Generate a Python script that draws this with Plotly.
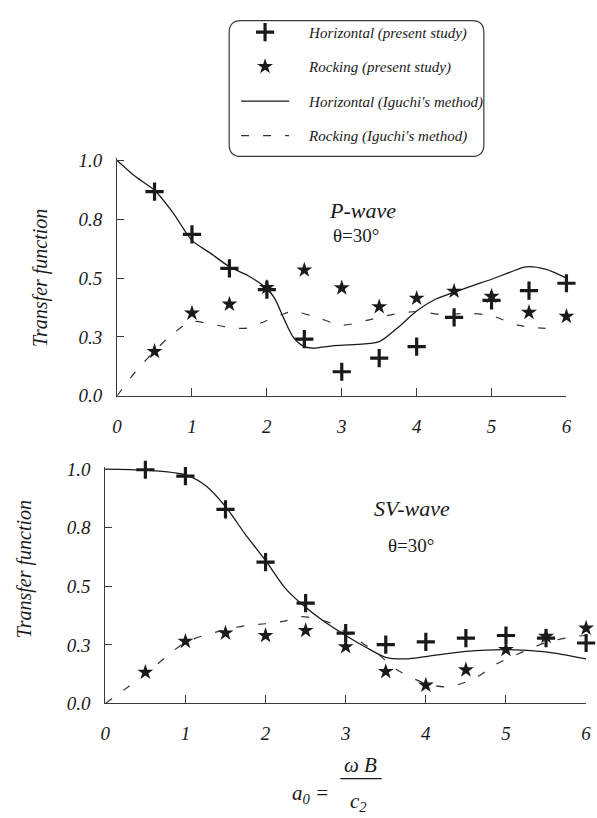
import plotly.graph_objects as go

# ---------------- data ----------------
a0_points = [0.5, 1.0, 1.5, 2.0, 2.5, 3.0, 3.5, 4.0, 4.5, 5.0, 5.5, 6.0]

# P-wave (top panel)
p_horiz_study = [0.867, 0.686, 0.541, 0.451, 0.241, 0.102, 0.16, 0.209, 0.333, 0.405, 0.447, 0.478]
p_rock_study = [0.188, 0.351, 0.389, 0.46, 0.534, 0.458, 0.378, 0.414, 0.444, 0.422, 0.354, 0.337]

p_horiz_iguchi_x = [0, 0.25, 0.5, 0.75, 1.0, 1.25, 1.5, 1.75, 2.0, 2.1, 2.22, 2.35, 2.48, 2.61, 2.87, 3.2,
                    3.5, 3.75, 4.0, 4.25, 4.5, 4.75, 5.0, 5.25, 5.46, 5.72, 6.0]
p_horiz_iguchi_y = [1.0, 0.93, 0.873, 0.776, 0.66, 0.605, 0.548, 0.51, 0.455, 0.416, 0.333, 0.25, 0.212, 0.202,
                    0.212, 0.218, 0.23, 0.29, 0.36, 0.41, 0.44, 0.468, 0.495, 0.525, 0.548, 0.538, 0.5]

p_rock_iguchi_x = [0, 0.24, 0.5, 0.75, 1.0, 1.25, 1.5, 1.75, 2.0, 2.2, 2.35, 2.65, 3.0, 3.33, 3.66, 4.0,
                   4.33, 4.67, 5.0, 5.35, 5.72]
p_rock_iguchi_y = [0.0, 0.1, 0.19, 0.265, 0.315, 0.305, 0.29, 0.288, 0.32, 0.345, 0.358, 0.335, 0.30, 0.32,
                   0.344, 0.358, 0.345, 0.35, 0.34, 0.30, 0.286]

# SV-wave (bottom panel)
sv_horiz_study = [0.997, 0.97, 0.828, 0.603, 0.428, 0.30, 0.251, 0.2625, 0.279, 0.29, 0.279, 0.258]
sv_rock_study = [0.133, 0.265, 0.30, 0.29, 0.311, 0.242, 0.136, 0.078, 0.143, 0.23, 0.286, 0.321]

sv_horiz_iguchi_x = [0, 0.5, 1.0, 1.25, 1.5, 1.75, 2.0, 2.25, 2.5, 2.75, 3.0, 3.25, 3.5, 3.75, 4.0, 4.5,
                     5.0, 5.5, 6.0]
sv_horiz_iguchi_y = [1.0, 0.995, 0.975, 0.93, 0.84, 0.72, 0.61, 0.49, 0.41, 0.345, 0.29, 0.24, 0.197, 0.19,
                     0.2, 0.222, 0.23, 0.22, 0.19]

sv_rock_iguchi_x = [0, 0.5, 1.0, 1.5, 1.75, 2.0, 2.25, 2.45, 2.82, 3.08, 3.37, 3.66, 4.0, 4.27, 4.6, 4.88,
                    5.21, 5.5, 5.87, 6.0]
sv_rock_iguchi_y = [0.0, 0.125, 0.26, 0.315, 0.332, 0.34, 0.352, 0.37, 0.342, 0.286, 0.22, 0.14, 0.085,
                    0.071, 0.105, 0.168, 0.22, 0.26, 0.286, 0.29]

x_tickvals = [0, 1, 2, 3, 4, 5, 6]
x_ticktext = ["0", "1", "2", "3", "4", "5", "6"]
y_tickvals = [0.0, 0.25, 0.5, 0.75, 1.0]
y_ticktext = ["0.0", "0.3", "0.5", "0.8", "1.0"]

series_names = ["Horizontal (present study)", "Rocking (present study)",
                "Horizontal (Iguchi's method)", "Rocking (Iguchi's method)"]

# ---------------- styling ----------------
W, H = 597, 818
INK = "#1a1a1a"
AX = "#3a3a3a"
SERIF = "Liberation Serif"
PAD = "\u00a0" * 4  # gap between legend symbol and its text


def px_x(p):
    return p / W


def px_y(p):
    return 1 - p / H


fig = go.Figure()

plus_marker = dict(symbol="cross-thin", size=13, line=dict(width=3.2, color=INK), color=INK)
star_marker = dict(symbol="star", size=12, color=INK, line=dict(width=0))

panels = [
    ("x", "y", p_horiz_study, p_rock_study, p_horiz_iguchi_x, p_horiz_iguchi_y, p_rock_iguchi_x, p_rock_iguchi_y, True),
    ("x2", "y2", sv_horiz_study, sv_rock_study, sv_horiz_iguchi_x, sv_horiz_iguchi_y, sv_rock_iguchi_x, sv_rock_iguchi_y, False),
]

for xa, ya, hs, rs, hx, hy, rx, ry, show in panels:
    fig.add_trace(go.Scatter(x=hx, y=hy, mode="lines", xaxis=xa, yaxis=ya,
                             line=dict(color=INK, width=1.3, shape="spline", smoothing=0.8),
                             name=PAD + series_names[2], showlegend=show, legendgroup="c", legendrank=3))
    fig.add_trace(go.Scatter(x=rx, y=ry, mode="lines", xaxis=xa, yaxis=ya,
                             line=dict(color="#333", width=1.2, shape="spline", smoothing=0.8, dash="8px,14px"),
                             name=PAD + series_names[3], showlegend=show, legendgroup="d", legendrank=4))
    fig.add_trace(go.Scatter(x=a0_points, y=hs, mode="markers", xaxis=xa, yaxis=ya, cliponaxis=False,
                             marker=plus_marker, name=PAD + series_names[0], showlegend=show,
                             legendgroup="a", legendrank=1))
    fig.add_trace(go.Scatter(x=a0_points, y=rs, mode="markers", xaxis=xa, yaxis=ya, cliponaxis=False,
                             marker=star_marker, name=PAD + series_names[1], showlegend=show,
                             legendgroup="b", legendrank=2))

tickfont = dict(family=SERIF, size=19, color=INK, style="italic")
common_x = dict(range=[0, 6], tickvals=x_tickvals, ticktext=x_ticktext, showline=True, linecolor=AX,
                linewidth=1.2, ticks="inside", ticklen=8, tickcolor=AX, tickwidth=1.2, showgrid=False,
                zeroline=False, tickfont=tickfont, ticklabelstandoff=13, fixedrange=True)
common_y = dict(range=[0, 1.01], tickvals=y_tickvals, ticktext=y_ticktext, showline=True, linecolor=AX,
                linewidth=1.2, ticks="inside", ticklen=7, tickcolor=AX, tickwidth=1.2, showgrid=False,
                zeroline=False, tickfont=tickfont, ticklabelstandoff=10, fixedrange=True)

top_y0, bot_y0, scale_top, scale_bot = 397, 712, 241, 240

fig.update_layout(
    width=W, height=H,
    margin=dict(l=0, r=0, t=0, b=0),
    paper_bgcolor="white", plot_bgcolor="white",
    xaxis=dict(domain=[px_x(114), px_x(571)], anchor="y", **common_x),
    yaxis=dict(domain=[px_y(top_y0), px_y(top_y0 - scale_top * 1.01)], anchor="x", **common_y),
    xaxis2=dict(domain=[px_x(102), px_x(591)], anchor="y2", **common_x),
    yaxis2=dict(domain=[px_y(bot_y0), px_y(bot_y0 - scale_bot * 1.01)], anchor="x2", **common_y),
    legend=dict(x=px_x(235), y=px_y(8), xanchor="left", yanchor="top",
                font=dict(family=SERIF, size=15, color=INK, style="italic"),
                bgcolor="rgba(0,0,0,0)", borderwidth=0, tracegroupgap=12, itemwidth=48,
                traceorder="grouped"),
    showlegend=True,
)

# rounded legend frame
x0, x1, y0, y1, r = px_x(228), px_x(487), px_y(152), px_y(13), 12
rx_, ry_ = r / W, r / H
path = (f"M {x0+rx_},{y1} L {x1-rx_},{y1} Q {x1},{y1} {x1},{y1-ry_} "
        f"L {x1},{y0+ry_} Q {x1},{y0} {x1-rx_},{y0} L {x0+rx_},{y0} "
        f"Q {x0},{y0} {x0},{y0+ry_} L {x0},{y1-ry_} Q {x0},{y1} {x0+rx_},{y1} Z")
fig.add_shape(type="path", path=path, xref="paper", yref="paper", line=dict(color=AX, width=1.2))

# fraction bar of the x-axis formula
fig.add_shape(type="line", xref="paper", yref="paper", x0=px_x(341), x1=px_x(383),
              y0=px_y(789), y1=px_y(789), line=dict(color=INK, width=1.3))


def note(text, x, y, size, italic=True, angle=0):
    fig.add_annotation(text=text, x=px_x(x), y=px_y(y), xref="paper", yref="paper",
                       showarrow=False, textangle=angle, xanchor="center", yanchor="middle",
                       font=dict(family=SERIF, size=size, color=INK,
                                 style="italic" if italic else "normal"))


note("Transfer function", 36, 276, 20, angle=-90)
note("Transfer function", 20, 575, 20, angle=-90)
note("P-wave", 364, 207, 22)
note("θ=30°", 357, 233, 19, italic=False)
note("SV-wave", 414, 512, 22)
note("θ=30°", 413, 550, 19, italic=False)
note("a<sub>0</sub> =", 311, 805, 21)
note("ω B", 362, 775, 21)
note("c<sub>2</sub>", 360, 813, 21)

fig.write_html("out.html")
